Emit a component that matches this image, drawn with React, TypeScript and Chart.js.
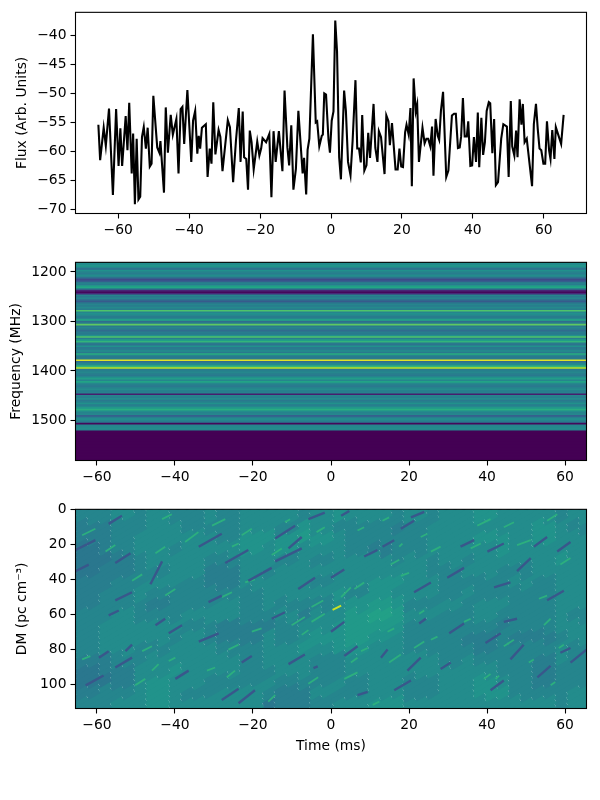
import React, { useEffect, useRef } from "react";
import { Chart, registerables } from "chart.js";

Chart.register(...registerables);

const fluxTimes = [-65.6,-65.1,-64.1,-63.5,-62.6,-61.5,-60.6,-59.9,-59.4,-58.9,-57.9,-57.4,-56.9,-56.2,-55.8,-55.3,-54.8,-54.3,-53.8,-53.3,-52.8,-52.2,-51.7,-51.1,-50.6,-50.1,-49.0,-48.4,-48.1,-47.1,-46.6,-46.0,-45.2,-44.6,-43.6,-43.0,-42.4,-41.9,-41.4,-40.5,-39.4,-38.9,-38.3,-37.7,-37.3,-36.9,-36.4,-35.3,-34.8,-34.2,-33.7,-33.2,-32.6,-31.7,-31.2,-30.6,-29.1,-28.5,-27.6,-26.8,-26.0,-25.5,-24.9,-24.5,-23.9,-23.4,-22.9,-22.4,-21.8,-20.8,-20.2,-19.7,-19.3,-18.3,-17.4,-16.8,-16.2,-15.6,-14.7,-13.7,-13.1,-12.3,-11.8,-11.2,-10.6,-9.9,-9.2,-8.0,-7.6,-7.0,-6.6,-6.1,-5.1,-4.3,-3.9,-3.3,-2.6,-2.3,-1.9,-1.4,-0.7,-0.3,0.2,0.7,1.2,1.7,2.3,2.8,3.7,4.2,4.8,5.5,6.1,6.9,7.4,7.9,8.4,8.8,9.4,10.0,10.5,11.0,12.0,12.5,13.1,13.5,14.1,15.1,15.6,16.2,16.6,17.2,18.2,18.8,19.3,19.8,20.3,20.9,21.3,21.9,22.4,22.8,23.3,23.9,24.3,24.8,25.8,26.4,26.9,27.4,28.0,28.5,28.9,29.5,30.1,30.5,31.0,31.6,32.5,33.1,34.1,34.7,35.2,35.8,36.3,36.7,37.2,37.7,38.3,38.7,39.3,39.8,40.3,40.9,41.4,41.8,42.4,42.9,43.4,43.9,44.5,44.9,45.5,46.0,46.5,47.1,48.0,48.6,49.6,50.1,50.7,51.1,51.7,52.2,52.6,53.2,53.7,54.1,54.6,55.2,56.7,57.2,57.8,58.3,58.8,59.3,59.9,60.4,60.9,61.5,61.9,62.4,63.0,63.4,64.9,65.6];
const fluxValues = [-55.4,-61.5,-55.9,-59.0,-52.6,-67.5,-52.7,-62.5,-56.0,-62.5,-53.9,-59.8,-51.6,-63.8,-56.9,-69.1,-57.8,-68.3,-67.8,-57.5,-55.8,-59.5,-55.9,-62.6,-62.1,-50.4,-59.3,-60.2,-58.2,-67.1,-52.4,-60.2,-53.7,-57.1,-54.4,-63.8,-52.7,-52.3,-58.7,-49.4,-61.8,-54.7,-53.0,-60.4,-57.3,-59.5,-55.9,-55.3,-64.4,-59.5,-62.1,-51.5,-60.5,-56.3,-57.5,-63.4,-54.6,-55.8,-65.3,-58.1,-52.5,-61.8,-53.1,-61.0,-61.3,-66.6,-56.4,-58.4,-63.1,-58.3,-60.7,-59.5,-57.7,-58.4,-57.0,-67.9,-56.5,-61.8,-56.5,-63.4,-49.5,-59.3,-62.4,-55.5,-66.6,-63.0,-53.0,-63.8,-61.1,-67.4,-59.7,-57.8,-39.8,-55.0,-54.8,-59.1,-57.3,-57.1,-50.0,-50.2,-58.0,-60.2,-54.7,-53.1,-37.4,-42.7,-61.0,-64.8,-49.5,-53.0,-61.8,-64.1,-58.1,-47.7,-59.5,-59.5,-61.9,-53.7,-63.3,-62.4,-56.8,-61.1,-51.8,-59.4,-61.8,-56.5,-57.5,-63.9,-53.8,-54.8,-58.9,-55.1,-63.1,-63.1,-59.5,-62.6,-62.7,-56.7,-55.4,-57.1,-52.5,-66.0,-47.4,-53.1,-51.9,-61.8,-55.9,-58.6,-57.8,-57.8,-59.1,-55.7,-64.2,-54.4,-57.3,-58.0,-53.0,-49.7,-64.4,-63.3,-53.8,-53.5,-53.5,-59.4,-59.3,-57.4,-50.8,-57.4,-57.4,-54.8,-62.5,-62.4,-57.5,-61.8,-53.3,-62.7,-54.2,-60.6,-58.4,-53.0,-51.5,-51.7,-60.3,-54.4,-65.8,-65.3,-57.8,-55.3,-55.7,-64.4,-51.3,-59.1,-60.7,-56.4,-61.0,-51.0,-55.4,-51.8,-58.4,-57.8,-66.0,-55.3,-51.8,-56.1,-59.5,-59.8,-62.1,-62.1,-54.8,-59.8,-61.3,-56.3,-61.3,-55.8,-58.7,-53.7];

// Channel brightness (0-1 of the colour map) read top to bottom, 128 channels from 1181 MHz.
const channelLevels = [
  0.5,0.47,0.52,0.45,0.35,0.5,0.45,0.42,0.48,0.45,0.3,0.22,0.3,0.45,0.42,0.55,0.6,0.4,0.1,0.02,
  0.12,0.45,0.4,0.45,0.35,0.28,0.4,0.45,0.42,0.47,0.42,0.72,0.45,0.5,0.45,0.4,0.45,0.6,0.35,0.42,
  0.75,0.4,0.45,0.4,0.35,0.42,0.4,0.5,0.72,0.42,0.55,0.65,0.4,0.38,0.5,0.4,0.42,0.48,0.4,0.62,
  0.45,0.4,0.42,0.95,0.35,0.45,0.48,0.65,0.9,0.4,0.44,0.46,0.42,0.4,0.5,0.55,0.45,0.58,0.46,0.42,
  0.4,0.45,0.48,0.42,0.44,0.08,0.45,0.42,0.47,0.4,0.44,0.5,0.42,0.46,0.55,0.62,0.48,0.44,0.46,0.3,
  0.42,0.5,0.44,0.4,0.02,0.45,0.46,0.48,0.46,0,0,0,0,0,0,0,0,0,0,0,0,0,0,0,0,0,0,0,
];

// Broad DM-time brightness, digits 0-9, one string per 6.3 units of DM, one digit per 4.68 ms.
const dmTimeRows = [
  "4454544545554565545455655545",
  "3344554445546544434555555654",
  "3345555546667654444555665655",
  "2345545556565554344555565555",
  "2234555445545455545454555565",
  "2334455335455555555445544555",
  "3344554335555455665544445455",
  "3445444444555564655545444455",
  "3444344454544456764454554455",
  "4454445554453557875544544454",
  "4555554433345567764444434455",
  "4555545433545667654443343345",
  "4554455544556566554444344454",
  "3344555554555445555545444354",
  "2335565554455445555555544344",
  "2235655444544454554455654344",
  "3445654455433544554455664445",
  "4455655555233455665555555545",
];
// Streaks: [time0, DM0, time1, DM1].
const darkStreaks = [
  [-57,8.3,-53.6,3.7],[-65.5,23.2,-60.4,17.6],[-55.3,30.6,-51.4,25],[-46.3,42.7,-43.3,29.7],[-33.9,21.3,-28,13.9],[-27.1,30.6,-21.2,23.2],
  [-14.3,16.7,-9.2,9.3],[-10.9,22.3,-7.5,15.8],[-5.8,5.6,-1.6,1.9],[-21.2,40.8,-15.2,33.4],[-8.4,45.5,-4.1,39],[-31.4,52.9,-28,49.2],
  [-55.3,51.9,-51,47.3],[-65.5,35.3,-62.1,31.5],[-14.3,29.7,-7.5,22.3],
  [13.2,21.3,16.2,17.6],[33.2,21.3,36.7,17.6],[52,21.3,55.4,15.8],[20.5,4.6,23.9,1.5],[8.5,26.9,11.9,23.2],[29.8,39,34.1,33.4],[21.3,47.3,25.6,41.7],
  [41.8,44.5,46,41.7],[2.6,3.7,4.7,0.9],[17.9,11.1,21.3,6.5],[0,39,3.4,34.3],[58,24.1,61.4,18.6],[47.7,35.3,51.2,27.8],[55.4,51.9,59.7,46.4],[40.1,24.1,44.3,19.5],
  [-33.9,75.4,-28.8,70.7],[-41.6,70.7,-38.2,66.1],[-55.3,90.2,-51,84.6],[-62.9,100.4,-58.3,94.8],[-39.9,96.7,-36.5,92],[-28,108.7,-23.7,102.3],[-23.7,110.6,-19.5,103.2],
  [-45,66.1,-42.5,62.4],[-57,60.5,-54.4,57.7],[-52.7,80.9,-51,77.2],[-22.9,87.4,-20.3,83.7],[-15.2,62.4,-11.8,58.7],[-10.9,88.3,-6.7,82.8],[-59.5,84.6,-57,80.9],[-4.5,90.6,-3.4,89.6],
  [30.3,70.7,34.1,65.1],[44.3,64.2,47.7,62.4],[39.6,76.3,43.5,70.7],[19.6,92,23,84.6],[12.8,84.6,14.5,80],[3.4,83.7,6.8,78.1],[58.8,81.8,61.4,79.1],[61.4,87.4,65.5,80],
  [52.9,95.8,56.3,89.3],[46,85.6,49.4,77.2],[22.6,65.1,24.3,62.4],[6.8,106,9.4,104.1],[40.9,103.2,44.3,97.6],[28.1,91.1,30.7,87.4],[0,69.8,3.4,64.2],[16.2,103.2,20.5,97.6],
];
const brightStreaks = [
  [-37.4,18.6,-34,13],[-45,25,-42.5,21.3],[-51,40.8,-48.4,37.1],[-11.8,7.4,-10.5,5.6],[-5,55.7,-2,52],[-42.5,49.2,-39.9,45.5],[-22.9,14.8,-20.3,11.1],[-25.4,21.3,-23.7,19.5],
  [-63.8,14.8,-60.4,11.1],[-30.5,9.3,-27.1,5.6],[-22,41.7,-19.5,39.9],[-28,50.1,-25.4,47.3],[-3.7,13,-1.6,10.2],[-15.2,26,-12.6,22.3],[-57.8,24.1,-55.3,20.4],[-43.3,5.6,-40.8,2.8],
  [13.2,6.5,14.9,4.6],[6.8,12.1,8.5,10.2],[47.7,20.4,51.2,17.6],[35.8,22.3,38.4,19.5],[2.6,50.1,5.1,44.5],[6,45.5,8.5,41.7],[23,15.8,24.7,13.9],[17.5,21.3,18.3,19.5],
  [58.8,31.5,61.4,27.8],[53.3,51,55.4,49.2],[55.4,6.5,58,2.8],[25.6,24.1,28.1,21.3],[37.5,9.3,40.9,5.6],[17.9,38,20,36.2],[15.3,31.5,17.5,28.8],[44.3,10.2,46.9,7.4],
  [-10.1,66.1,-6.7,61.4],[-7.5,71.6,-5.8,68.9],[-5,64.2,-1.6,59.6],[-45.9,92,-44.2,88.3],[-50.2,100.4,-47.6,96.7],[-41.6,86.5,-39.9,84.6],[-48.4,80.9,-45.9,78.1],[-16.1,109.7,-14.3,106],
  [-20.3,69.8,-17.8,67.9],[-63.8,85.6,-61.7,83.7],[-26.7,95.8,-24.6,92],[-31.8,92,-29.7,90.2],[-5.8,99.5,-3.3,95.8],[-26.3,80,-23.7,77.2],
  [14.5,69.8,16.2,67.9],[5.1,87.4,6.8,84.6],[7.7,80.9,9.4,79.1],[42.2,96.7,43.1,94.8],[50.7,87.4,52,85.6],[10.7,111.5,12.4,109.7],[58.4,79.1,59.7,77.2],[21.3,79.1,23.9,75.4],
  [22.6,59.6,23.9,57.7],[54.6,66.1,56.3,62.4],[14.9,87.4,17.9,82.8],[44.3,78.1,46.9,74.4],[39.2,96.7,40.9,93.9],[25.6,74.4,27.3,72.6],[3.4,96.7,6.8,93],[34.1,64.2,35.8,62.4],[56.3,100.4,57.5,98.5],
];
const hotStreaks = [[0.4,57.4,2.6,54.9]];
const timeTicks = [-60, -40, -20, 0, 20, 40, 60];
const fluxTicks = [-70, -65, -60, -55, -50, -45, -40];
const freqTicks = [1200, 1300, 1400, 1500];
const dmTicks = [0, 20, 40, 60, 80, 100];

const VIRIDIS = ["#440154","#482475","#414487","#355f8d","#2a788e","#21918c","#22a884","#44bf70","#7ad151","#bddf26","#fde725"];
function viridis(v: number) {
  const p = Math.max(0, Math.min(0.9999, v)) * 10;
  const i = Math.floor(p), f = p - i;
  const a = parseInt(VIRIDIS[i].slice(1), 16), b = parseInt(VIRIDIS[i + 1].slice(1), 16);
  const ch = (s: number) => Math.round(((a >> s) & 255) * (1 - f) + ((b >> s) & 255) * f);
  return `rgb(${ch(16)},${ch(8)},${ch(0)})`;
}
const FONT = "'DejaVu Sans'";
const fontSize = 13.89;
const minus = (v: any) => String(v).replace("-", "\u2212");

const frame = {
  id: "frame",
  afterDraw(c: any) {
    const { left, top, right, bottom } = c.chartArea;
    const g = c.ctx;
    g.save();
    g.strokeStyle = "#000";
    g.lineWidth = 1.1;
    g.strokeRect(left, top, right - left, bottom - top);
    g.restore();
  },
};

function axes(o: { xMin: number; xMax: number; xTicks: number[]; yMin: number; yMax: number; yTicks: number[]; reverse?: boolean; yTitle: string; titleX: number; xTitle?: string; xH: number }) {
  const tick = { color: "#000", font: { family: FONT, size: fontSize }, autoSkip: false, maxRotation: 0, padding: 4, callback: minus };
  const grid = { drawOnChartArea: false, drawTicks: true, tickLength: 5, tickColor: "#000", tickWidth: 1.1, offset: false };
  return {
    x: {
      type: "linear", min: o.xMin, max: o.xMax, offset: false, position: "bottom",
      ticks: tick, grid, border: { display: false },
      title: o.xTitle ? { display: true, text: o.xTitle, color: "#000", font: { family: FONT, size: fontSize, lineHeight: 1 }, padding: { top: 6, bottom: 0 } } : { display: false },
      afterBuildTicks(s: any) { s.ticks = o.xTicks.map((value) => ({ value })); },
      afterFit(s: any) { s.height = o.xH; },
    },
    y: {
      type: "linear", min: o.yMin, max: o.yMax, reverse: !!o.reverse, offset: false, position: "left",
      ticks: tick, grid, border: { display: false },
      title: { display: true, text: o.yTitle, color: "#000", font: { family: FONT, size: fontSize, lineHeight: 1 }, padding: { top: o.titleX, bottom: 0 } },
      afterBuildTicks(s: any) { s.ticks = o.yTicks.map((value) => ({ value })); },
      afterFit(s: any) { s.width = 75.5; },
    },
  };
}
const base = (top: number) => ({
  animation: false as const,
  responsive: false,
  devicePixelRatio: 1,
  layout: { autoPadding: false, padding: { top, right: 13.5, left: 0, bottom: 0 } },
  plugins: { legend: { display: false }, tooltip: { enabled: false } },
  events: [] as string[],
});

const streakPoints = (list: number[][]) => list.flatMap((s) => [{ x: s[0], y: s[1] }, { x: s[2], y: s[3] }, { x: null, y: null }]);
const FREQ_TOP = 1181, FREQ_STEP = 3.125, DM_MAX = 113.6, T = 65.5;
const STREAK_SLOPE = 1.31, BAND_GAP = 3, BAND_STEP = 3;

export default function App() {
  const a = useRef<HTMLCanvasElement>(null), b = useRef<HTMLCanvasElement>(null), d = useRef<HTMLCanvasElement>(null);
  useEffect(() => {
    const top = new Chart(a.current!, {
      type: "line",
      data: { datasets: [{ data: fluxTimes.map((x, i) => ({ x, y: fluxValues[i] })), borderColor: "#000", borderWidth: 2.08, pointRadius: 0, tension: 0 }] },
      options: { ...base(10.5), scales: axes({ xMin: -72.05, xMax: 72.05, xTicks: timeTicks, yMin: -70.7, yMax: -36, yTicks: fluxTicks, yTitle: "Flux (Arb. Units)", titleX: 15, xH: 36.5 }) } as any,
      plugins: [frame],
    });
    const mid = new Chart(b.current!, {
      type: "bar",
      data: { datasets: [{
        data: channelLevels.map((_, i) => ({ y: FREQ_TOP + FREQ_STEP * (i + 0.5), x: [-T, T] })) as any,
        backgroundColor: channelLevels.map(viridis), barThickness: 2, borderWidth: 0,
      }] },
      options: { ...base(7.5), indexAxis: "y", scales: axes({ xMin: -T, xMax: T, xTicks: timeTicks, yMin: 1180.5, yMax: 1581, yTicks: freqTicks, reverse: true, yTitle: "Frequency (MHz)", titleX: 9, xH: 39.5 }) } as any,
      plugins: [frame],
    });

    // The broad brightness grid is laid down along the streak direction, so it reads as diagonal bands.
    const nCols = dmTimeRows[0].length, nRows = dmTimeRows.length;
    const levelAt = (t: number, dm: number) => {
      const c = Math.min(nCols - 1, Math.max(0, Math.floor(((t + T) / (2 * T)) * nCols)));
      const r = Math.min(nRows - 1, Math.max(0, Math.floor((dm / DM_MAX) * nRows)));
      return 0.34 + Number(dmTimeRows[r][c]) * 0.028;
    };
    const bands: any[] = [];
    for (let c = -BAND_GAP; c <= DM_MAX + 2 * T * STREAK_SLOPE + BAND_GAP; c += BAND_GAP) {
      const pts: { x: number; y: number }[] = [];
      for (let t = -T; t <= T + BAND_STEP; t += BAND_STEP) pts.push({ x: t, y: c - STREAK_SLOPE * (t + T) });
      bands.push({
        type: "line", data: pts, borderWidth: 6.5, pointRadius: 0, order: 3, clip: 0, borderColor: viridis(0.48),
        segment: { borderColor: (ctx: any) => viridis(levelAt((ctx.p0.parsed.x + ctx.p1.parsed.x) / 2, (ctx.p0.parsed.y + ctx.p1.parsed.y) / 2)) },
      });
    }
    const streak = (list: number[][], level: number, w: number) => ({ type: "line", data: streakPoints(list), borderColor: viridis(level), borderWidth: w, pointRadius: 0, order: 1, spanGaps: false, clip: 0 });
    const bot = new Chart(d.current!, {
      type: "line",
      data: { datasets: [
        ...bands,
        streak(darkStreaks, 0.27, 2.4),
        streak(brightStreaks, 0.63, 1.8),
        streak(hotStreaks, 0.92, 2),
      ] as any },
      options: { ...base(8.5), scales: axes({ xMin: -T, xMax: T, xTicks: timeTicks, yMin: 0, yMax: DM_MAX, yTicks: dmTicks, reverse: true, yTitle: "DM (pc cm\u207B\u00B3)", titleX: 15, xTitle: "Time (ms)", xH: 44.5 }) } as any,
      plugins: [frame],
    });
    return () => { top.destroy(); mid.destroy(); bot.destroy(); };
  }, []);
  const pos = (t: number, h: number): React.CSSProperties => ({ position: "absolute", left: 0, top: t, width: 600, height: h, display: "block" });
  return (
    <div style={{ position: "absolute", left: 0, top: 0, width: 600, height: 800, background: "#fff" }}>
      <canvas ref={a} width={600} height={250} style={pos(0, 250)} />
      <canvas ref={b} width={600} height={250} style={pos(250, 250)} />
      <canvas ref={d} width={600} height={256} style={pos(497, 256)} />
    </div>
  );
}
